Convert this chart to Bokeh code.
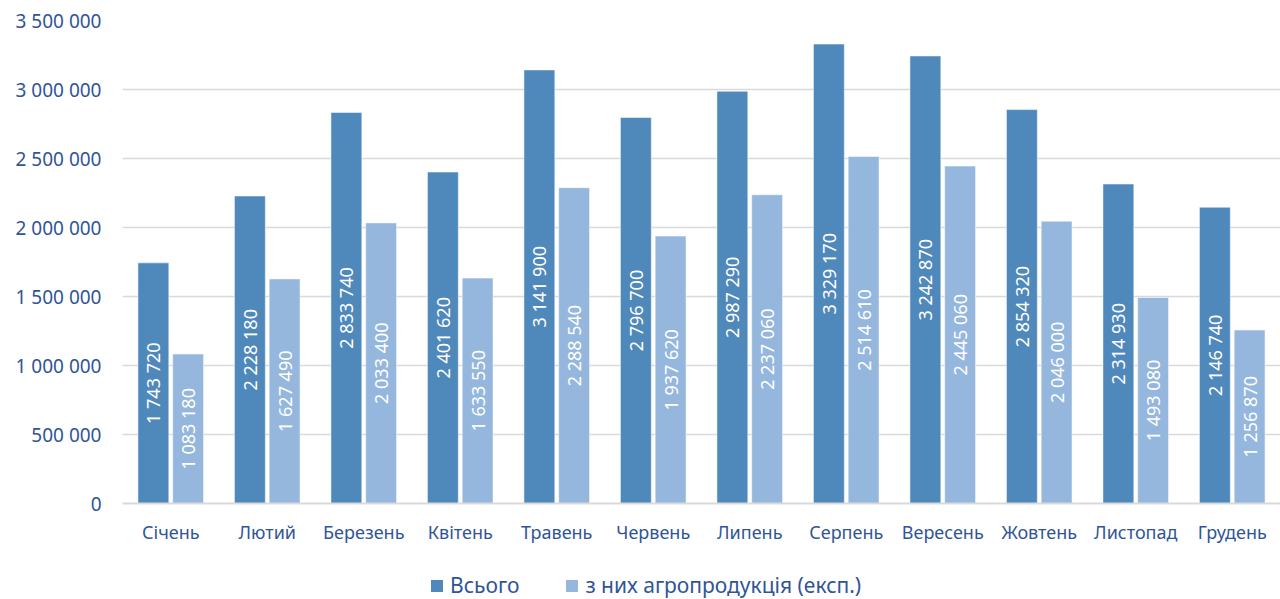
from bokeh.plotting import figure
from bokeh.layouts import column
from bokeh.models import (ColumnDataSource, FactorRange, Range1d, FixedTicker,
                          Legend, LegendItem)
from bokeh.transform import dodge
from bokeh.core.properties import value
from bokeh.embed import file_html
from bokeh.resources import INLINE

months = ["Січень", "Лютий", "Березень", "Квітень", "Травень", "Червень",
          "Липень", "Серпень", "Вересень", "Жовтень", "Листопад", "Грудень"]
total = [1743720, 2228180, 2833740, 2401620, 3141900, 2796700,
         2987290, 3329170, 3242870, 2854320, 2314930, 2146740]
agro = [1083180, 1627490, 2033400, 1633550, 2288540, 1937620,
        2237060, 2514610, 2445060, 2046000, 1493080, 1256870]
series_names = ["Всього", "з них агропродукція (експ.)"]
y_ticks = [0, 500000, 1000000, 1500000, 2000000, 2500000, 3000000, 3500000]
y_tick_labels = ["0", "500 000", "1 000 000", "1 500 000", "2 000 000",
                 "2 500 000", "3 000 000", "3 500 000"]

C_DARK = "#4F88BB"
C_LIGHT = "#95B7DE"
TXT = "#2F5597"
FONT = "Noto Sans"

def fmt(v):
    return f"{v:,}".replace(",", " ")

src = ColumnDataSource(dict(
    month=months, total=total, agro=agro,
    total_half=[v / 2 for v in total], agro_half=[v / 2 for v in agro],
    total_lbl=[fmt(v) for v in total], agro_lbl=[fmt(v) for v in agro],
))

p = figure(frame_width=1158, frame_height=483, output_backend="svg",
           toolbar_location=None,
           x_range=FactorRange(*months, range_padding=0),
           y_range=Range1d(0, 3500000))
p.min_border_left = 122
p.min_border_right = 0
p.min_border_top = 20
p.min_border_bottom = 40
p.outline_line_color = None
p.background_fill_color = "white"
p.border_fill_color = "white"

W = 0.32
OFF = 0.18
bar_style = dict(line_color="white", line_alpha=0.5, line_width=1)
r1 = p.vbar(x=dodge("month", -OFF, range=p.x_range), top="total", width=W,
            source=src, fill_color=C_DARK, **bar_style)
r2 = p.vbar(x=dodge("month", OFF, range=p.x_range), top="agro", width=W,
            source=src, fill_color=C_LIGHT, **bar_style)

p.text(x=dodge("month", -OFF, range=p.x_range), y="total_half", text="total_lbl",
       source=src, angle=1.5708, text_align="center", text_baseline="middle",
       text_color="white", text_font=value(FONT), text_font_size="18px")
p.text(x=dodge("month", OFF, range=p.x_range), y="agro_half", text="agro_lbl",
       source=src, angle=1.5708, text_align="center", text_baseline="middle",
       text_color="white", text_font=value(FONT), text_font_size="18px")

# axes
p.yaxis.ticker = FixedTicker(ticks=y_ticks)
p.yaxis.major_label_overrides = {t: l for t, l in zip(y_ticks, y_tick_labels)}
p.yaxis.axis_line_color = None
p.yaxis.major_tick_line_color = None
p.yaxis.minor_tick_line_color = None
p.yaxis.major_label_standoff = 15
p.yaxis.major_label_text_font = FONT
p.yaxis.major_label_text_font_size = "19px"
p.yaxis.major_label_text_color = TXT

p.xaxis.axis_line_color = "#D9D9D9"
p.xaxis.axis_line_width = 2
p.xaxis.major_tick_line_color = None
p.xaxis.minor_tick_line_color = None
p.xaxis.major_label_standoff = 10
p.xaxis.major_label_text_font = FONT
p.xaxis.major_label_text_font_size = "18px"
p.xaxis.major_label_text_color = TXT

p.xgrid.grid_line_color = None
p.ygrid.grid_line_color = "#D9D9D9"
p.ygrid.grid_line_width = 1.5

# legend strip below the chart (legend proxies are zero-size bars)
leg = figure(width=1280, height=56, output_backend="svg", toolbar_location=None,
             x_range=Range1d(0, 1), y_range=Range1d(0, 1),
             x_axis_location=None, y_axis_location=None)
leg.min_border_left = leg.min_border_right = 0
leg.min_border_top = leg.min_border_bottom = 0
leg.outline_line_color = None
leg.xgrid.grid_line_color = None
leg.ygrid.grid_line_color = None
lr1 = leg.vbar(x=[0], top=[0], bottom=[0], width=0, fill_color=C_DARK,
               line_color=None)
lr2 = leg.vbar(x=[0], top=[0], bottom=[0], width=0, fill_color=C_LIGHT,
               line_color=None)
legend = Legend(items=[LegendItem(label=series_names[0], renderers=[lr1]),
                       LegendItem(label=series_names[1], renderers=[lr2])],
                orientation="horizontal", location=(307, 3),
                glyph_width=15, glyph_height=15, label_standoff=6, spacing=45,
                label_height=26,
                padding=0, margin=0, border_line_color=None,
                background_fill_alpha=0,
                label_text_font=FONT, label_text_font_size="21px",
                label_text_color=TXT)
leg.add_layout(legend, "center")

open("out.html", "w").write(file_html(column(p, leg, spacing=0), INLINE))
